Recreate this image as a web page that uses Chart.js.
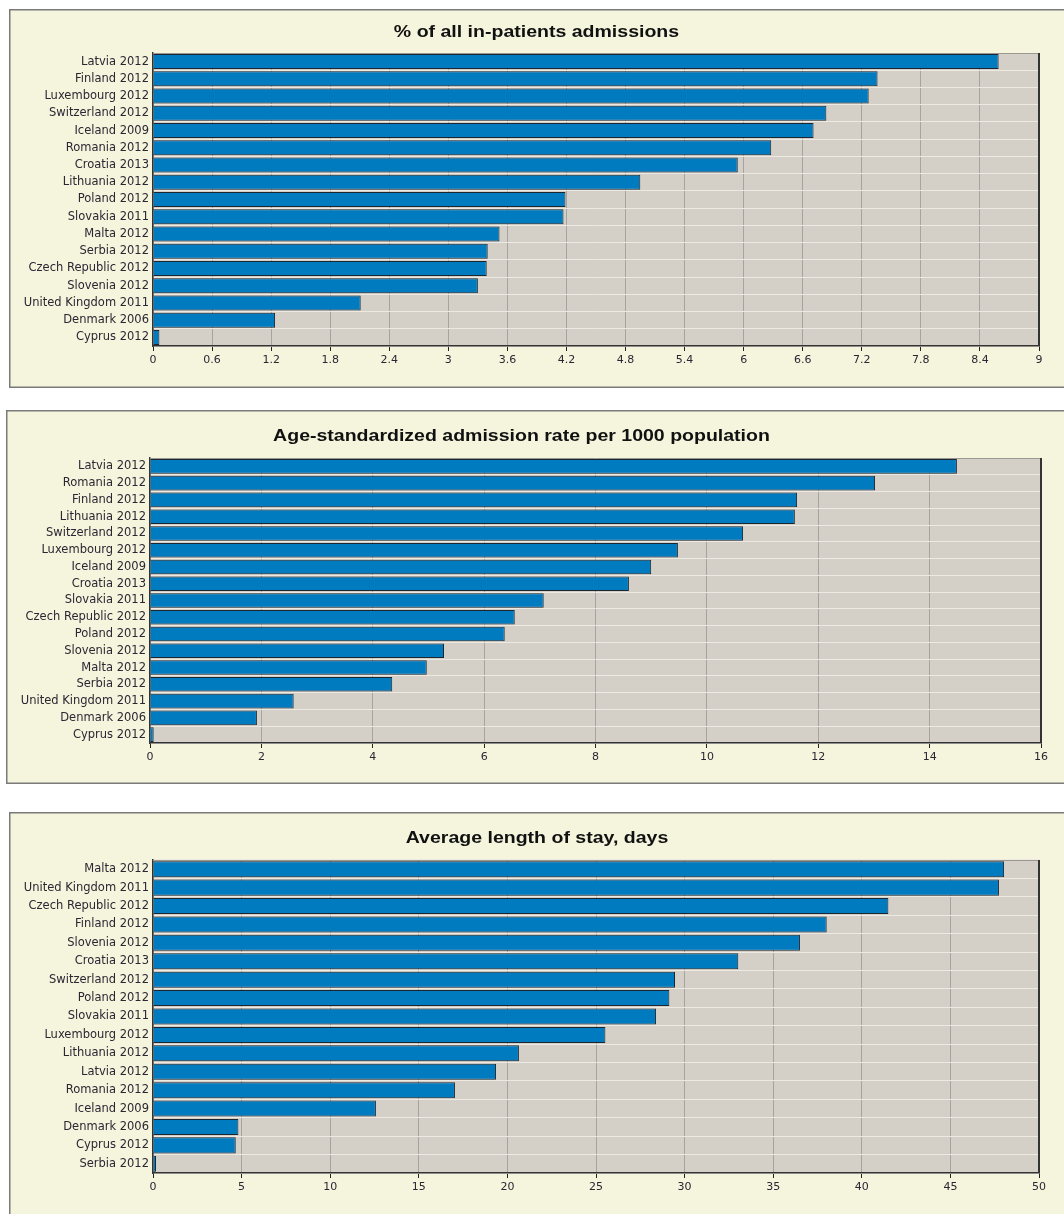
<!DOCTYPE html>
<html><head><meta charset="utf-8">
<script src="https://cdn.jsdelivr.net/npm/chart.js@4/dist/chart.umd.min.js"></script>
<style>
html,body{margin:0;padding:0;background:#fff;width:1064px;height:1214px;overflow:hidden;position:relative;}
canvas{position:absolute;}
</style></head><body>
<canvas id="c1"></canvas>
<canvas id="c2"></canvas>
<canvas id="c3"></canvas>
<script>
// ---- data ----
const title1 = '% of all in-patients admissions';
const categories1 = ['Latvia 2012','Finland 2012','Luxembourg 2012','Switzerland 2012','Iceland 2009','Romania 2012','Croatia 2013','Lithuania 2012','Poland 2012','Slovakia 2011','Malta 2012','Serbia 2012','Czech Republic 2012','Slovenia 2012','United Kingdom 2011','Denmark 2006','Cyprus 2012'];
const values1 = [8.59,7.36,7.27,6.84,6.71,6.28,5.94,4.95,4.19,4.17,3.52,3.40,3.39,3.30,2.11,1.24,0.065];
const ticks1 = [0,0.6,1.2,1.8,2.4,3,3.6,4.2,4.8,5.4,6,6.6,7.2,7.8,8.4,9];
const tickLabels1 = ['0','0.6','1.2','1.8','2.4','3','3.6','4.2','4.8','5.4','6','6.6','7.2','7.8','8.4','9'];

const title2 = 'Age-standardized admission rate per 1000 population';
const categories2 = ['Latvia 2012','Romania 2012','Finland 2012','Lithuania 2012','Switzerland 2012','Luxembourg 2012','Iceland 2009','Croatia 2013','Slovakia 2011','Czech Republic 2012','Poland 2012','Slovenia 2012','Malta 2012','Serbia 2012','United Kingdom 2011','Denmark 2006','Cyprus 2012'];
const values2 = [14.49,13.02,11.62,11.58,10.65,9.48,9.0,8.6,7.07,6.55,6.37,5.28,4.97,4.35,2.58,1.92,0.066];
const ticks2 = [0,2,4,6,8,10,12,14,16];
const tickLabels2 = ['0','2','4','6','8','10','12','14','16'];

const title3 = 'Average length of stay, days';
const categories3 = ['Malta 2012','United Kingdom 2011','Czech Republic 2012','Finland 2012','Slovenia 2012','Croatia 2013','Switzerland 2012','Poland 2012','Slovakia 2011','Luxembourg 2012','Lithuania 2012','Latvia 2012','Romania 2012','Iceland 2009','Denmark 2006','Cyprus 2012','Serbia 2012'];
const values3 = [48.03,47.74,41.5,38.02,36.51,33.03,29.46,29.14,28.39,25.53,20.65,19.36,17.04,12.58,4.82,4.67,0.17];
const ticks3 = [0,5,10,15,20,25,30,35,40,45,50];
const tickLabels3 = ['0','5','10','15','20','25','30','35','40','45','50'];

// ---- layout ----
const bgPlugin = {
  id: 'bg',
  beforeDraw(chart, args, opts) {
    const {ctx, width, height, chartArea: a} = chart;
    ctx.save();
    ctx.fillStyle = '#f5f4dc';
    ctx.fillRect(0, 0, width, height);
    ctx.strokeStyle = '#7a7a7a';
    ctx.lineWidth = 1.5;
    ctx.strokeRect(0.75, 0.75, width - 1.5, height - 1.5);
    ctx.fillStyle = '#d4d0c8';
    ctx.fillRect(a.left, a.top, a.right - a.left, a.bottom - a.top);
    ctx.restore();
  },
  afterDatasetsDraw(chart) {
    const {ctx, chartArea: a} = chart;
    ctx.save();
    ctx.strokeStyle = '#9a9890';
    ctx.lineWidth = 1;
    ctx.beginPath(); ctx.moveTo(a.left, a.top + 0.5); ctx.lineTo(a.right, a.top + 0.5); ctx.stroke();
    ctx.strokeStyle = '#333';
    ctx.lineWidth = 2;
    ctx.beginPath(); ctx.moveTo(a.right, a.top); ctx.lineTo(a.right, a.bottom); ctx.stroke();
    ctx.restore();
  },
  afterDraw(chart, args, opts) {
    const ctx = chart.ctx;
    ctx.save();
    ctx.font = 'bold 16px "Liberation Sans", Arial, sans-serif';
    ctx.fillStyle = '#111';
    ctx.textAlign = 'center';
    ctx.textBaseline = 'alphabetic';
    ctx.translate(opts.cx, opts.baseline);
    ctx.scale(1.22, 1);
    ctx.fillText(opts.text, 0, 0);
    ctx.restore();
  }
};

function build(id, cfg) {
  const el = document.getElementById(id);
  el.width = cfg.w; el.height = cfg.h;
  el.style.left = cfg.x + 'px'; el.style.top = cfg.y + 'px';
  const plotL = cfg.plot.l - cfg.x, plotT = cfg.plot.t - cfg.y, plotR = cfg.plot.r - cfg.x, plotB = cfg.plot.b - cfg.y;
  const labelFont = {family: '"DejaVu Sans", Verdana, sans-serif', size: 11.5};
  new Chart(el, {
    type: 'bar',
    data: {labels: cfg.labels, datasets: [{data: cfg.values, backgroundColor: '#007bc0', borderColor: '#1b2630', borderWidth: 1, barPercentage: 0.87, categoryPercentage: 1}]},
    options: {
      indexAxis: 'y', responsive: false, animation: false, devicePixelRatio: 1,
      layout: {padding: {left: 0, top: plotT, right: cfg.w - plotR, bottom: 0}},
      plugins: {
        legend: {display: false}, tooltip: {enabled: false}, title: {display: false},
        bg: {text: cfg.title, cx: cfg.titleX - cfg.x, baseline: cfg.titleBase - cfg.y}
      },
      scales: {
        x: {
          type: 'linear', min: cfg.ticks[0], max: cfg.ticks[cfg.ticks.length - 1],
          afterBuildTicks: s => { s.ticks = cfg.ticks.map(v => ({value: v})); },
          afterFit: s => { s.height = cfg.h - plotB; },
          ticks: {callback: (v, i) => cfg.tickLabels[i], color: '#2b2633', font: {family: '"DejaVu Sans", Verdana, sans-serif', size: 11}, padding: 3, maxRotation: 0, autoSkip: false},
          grid: {color: '#a6a4a0', lineWidth: 1, tickColor: '#222', tickLength: 5},
          border: {display: true, color: '#333', width: 1.5}
        },
        y: {
          afterFit: s => { s.width = plotL; },
          ticks: {color: '#2b2633', font: labelFont, padding: 4, autoSkip: false},
          grid: {color: '#eceae2', lineWidth: 1, drawTicks: false, offset: true},
          border: {display: true, color: '#333', width: 1.5}
        }
      }
    },
    plugins: [bgPlugin]
  });
}

build('c1', {x: 9, y: 9, w: 1059, h: 379, plot: {l: 153, t: 53, r: 1039, b: 346}, titleX: 536.5, titleBase: 36.5,
  title: title1, labels: categories1, values: values1, ticks: ticks1, tickLabels: tickLabels1});
build('c2', {x: 6, y: 410, w: 1062, h: 374, plot: {l: 150, t: 458, r: 1041, b: 743}, titleX: 521.5, titleBase: 441.3,
  title: title2, labels: categories2, values: values2, ticks: ticks2, tickLabels: tickLabels2});
build('c3', {x: 9, y: 812, w: 1059, h: 406, plot: {l: 153, t: 860, r: 1039, b: 1173}, titleX: 537, titleBase: 842.5,
  title: title3, labels: categories3, values: values3, ticks: ticks3, tickLabels: tickLabels3});
</script>
</body></html>
